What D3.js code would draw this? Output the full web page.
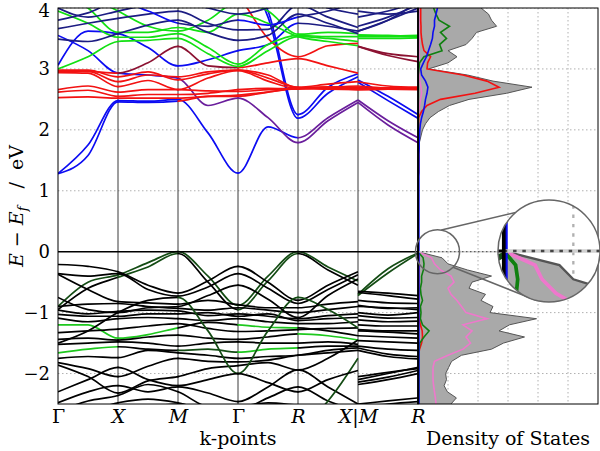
<!DOCTYPE html>
<html><head><meta charset="utf-8">
<script src="https://cdn.jsdelivr.net/npm/d3@7"></script>
<style>body{margin:0;background:#fff} svg{display:block}</style>
</head><body>
<svg id="c" width="600" height="451"></svg>
<script>
// ---------- data ----------
const kLabels = ["Γ","X","M","Γ","R","X|M","R"];
const kItalic = [false,true,true,false,true,true,true];
// sample positions along the path (X|M is a discontinuity, sampled twice)
const kSamples = [0,0.5,1,1.5,2,2.5,3,3.5,4,4.5,5,5,5.5,6];
const yTicks = [-2,-1,0,1,2,3,4];
const dosGrid = [1,2,3,4,5];

// bands (eV) at kSamples
const bandEnergies = [
  [1.28,1.75,2.48,2.47,2.50,1.95,1.29,2.05,1.87,2.20,2.49,2.49,2.15,1.87],
  [1.28,1.58,2.46,2.45,2.47,2.55,2.55,2.62,2.68,2.70,2.70,2.70,2.68,2.68],
  [4.60,4.60,4.50,4.50,4.50,4.60,4.70,3.95,2.25,2.70,2.92,2.82,2.55,2.25],
  [4.60,4.60,4.50,4.50,4.50,4.60,4.70,3.85,2.19,2.60,2.87,2.78,2.48,2.19],
  [3.06,3.62,3.58,3.35,3.05,3.15,3.30,3.40,3.75,3.70,3.62,3.62,3.80,4.10],
  [3.55,3.30,2.93,2.90,2.85,2.40,2.52,2.20,1.79,2.15,2.45,2.45,2.08,1.79],
  [2.98,2.98,2.87,2.95,2.82,2.92,2.98,2.90,2.69,2.70,2.68,2.68,2.68,2.68],
  [2.96,2.96,2.79,2.90,2.87,2.95,2.98,2.85,2.70,2.75,2.79,2.79,2.72,2.70],
  [2.94,2.93,2.71,2.81,2.66,2.85,2.97,2.80,2.68,2.68,2.68,2.68,2.68,2.68],
  [2.66,2.72,2.62,2.66,2.66,2.64,2.63,2.66,2.68,2.68,2.66,2.66,2.67,2.67],
  [2.62,2.65,2.55,2.58,2.58,2.60,2.66,2.68,2.67,2.70,2.72,2.72,2.69,2.69],
  [2.53,2.54,2.52,2.52,2.52,2.55,2.57,2.62,2.68,2.67,2.66,2.66,2.67,2.66],
  [4.50,4.40,4.30,4.30,4.40,4.50,4.20,3.50,3.20,3.38,3.42,3.37,3.25,3.20],
  [2.97,2.96,2.93,3.10,3.37,3.05,3.02,3.10,3.17,3.05,2.93,3.37,3.22,3.12],
  [3.00,3.20,3.45,3.47,3.50,3.25,3.04,3.30,3.53,3.50,3.45,3.53,3.53,3.53],
  [3.95,3.75,3.52,3.52,3.58,3.35,3.08,3.40,3.55,3.53,3.53,3.55,3.54,3.55],
  [4.30,4.00,3.60,3.60,3.68,3.60,3.90,3.75,3.53,3.45,3.38,3.50,3.50,3.51],
  [4.40,4.20,3.95,3.70,3.62,3.80,4.10,3.95,3.57,3.60,3.58,3.56,3.55,3.53],
  [3.49,3.45,3.58,3.72,3.80,3.60,3.47,3.55,3.90,3.75,3.58,3.62,3.80,4.00],
  [3.66,3.75,3.83,3.90,3.95,3.75,3.64,3.65,4.05,3.85,3.68,3.70,3.85,4.05],
  [4.00,3.85,3.95,4.05,4.10,4.00,3.90,4.00,4.20,4.00,3.90,3.85,3.95,4.10],
  [3.80,3.92,4.10,3.95,3.75,3.70,3.80,3.72,3.85,3.95,4.10,3.95,3.90,3.95],
  // valence bands
  [-0.90,-0.50,-0.38,-0.18,0.00,-0.40,-0.88,-0.40,0.00,-0.25,-0.48,-0.70,-0.28,-0.02],
  [-0.95,-0.60,-0.42,-0.25,-0.03,-0.50,-0.95,-0.48,-0.03,-0.30,-0.55,-0.72,-0.35,-0.03],
  [-0.21,-0.24,-0.33,-0.55,-0.68,-0.48,-0.24,-0.50,-0.80,-0.55,-0.33,-0.65,-0.68,-0.72],
  [-0.36,-0.40,-0.36,-0.62,-0.73,-0.58,-0.36,-0.60,-0.85,-0.62,-0.38,-0.67,-0.72,-0.78],
  [-0.37,-0.62,-0.82,-0.84,-0.86,-0.80,-0.87,-0.92,-0.92,-0.86,-0.82,-0.80,-0.84,-0.85],
  [-0.90,-0.86,-0.85,-0.90,-0.93,-0.96,-0.92,-0.96,-1.00,-0.95,-0.90,-0.88,-0.93,-0.92],
  [-0.96,-1.02,-0.98,-0.96,-0.97,-1.05,-1.02,-1.06,-1.10,-1.05,-1.02,-1.00,-1.04,-1.00],
  [-1.03,-1.06,-1.06,-1.02,-1.02,-1.00,-1.06,-1.02,-1.13,-1.10,-1.08,-1.05,-1.09,-1.08],
  [-1.09,-1.15,-1.10,-1.08,-1.10,-1.13,-1.10,-1.15,-1.18,-1.18,-1.15,-1.12,-1.15,-1.14],
  [-1.20,-1.20,-1.42,-1.36,-1.25,-1.16,-1.20,-1.24,-1.25,-1.30,-1.38,-1.20,-1.22,-1.22],
  [-1.33,-1.30,-1.27,-1.22,-1.18,-1.26,-1.31,-1.30,-1.28,-1.26,-1.25,-1.28,-1.30,-1.30],
  [-1.44,-1.42,-1.45,-1.40,-1.37,-1.42,-1.44,-1.40,-1.35,-1.38,-1.45,-1.38,-1.40,-1.42],
  [-1.52,-1.50,-1.48,-1.50,-1.55,-1.50,-1.48,-1.50,-1.50,-1.48,-1.52,-1.46,-1.48,-1.50],
  [-1.66,-1.60,-1.56,-1.60,-1.62,-1.60,-1.65,-1.60,-1.58,-1.55,-1.55,-1.55,-1.60,-1.62],
  [-1.75,-1.72,-1.74,-1.62,-1.66,-1.70,-1.75,-1.72,-1.70,-1.62,-1.58,-1.58,-1.68,-1.72],
  [-1.82,-1.92,-2.05,-1.88,-1.75,-1.80,-1.81,-1.78,-1.70,-1.66,-1.62,-1.62,-1.72,-1.76],
  [-1.86,-2.05,-2.32,-2.12,-2.05,-1.92,-1.87,-1.82,-1.94,-1.75,-1.45,-2.10,-2.00,-1.90],
  [-2.48,-2.30,-2.20,-2.30,-2.22,-2.32,-2.46,-2.22,-1.94,-2.22,-2.50,-2.14,-2.06,-1.95],
  [-2.62,-2.45,-2.36,-2.18,-2.30,-2.55,-2.60,-2.40,-2.22,-2.45,-2.62,-2.50,-2.45,-2.40],
  [-2.90,-2.75,-2.62,-2.55,-2.50,-2.60,-2.70,-2.80,-2.90,-2.45,-1.75,-2.05,-1.98,-1.92],
  [-1.50,-1.30,-1.00,-0.80,-0.75,-1.30,-2.00,-1.30,-0.75,-0.95,-1.25,-1.30,-1.32,-1.35],
  [-0.75,-0.95,-1.00,-0.92,-0.90,-0.72,-0.55,-0.78,-1.08,-0.72,-0.45,-0.90,-0.92,-0.95],
  [-2.30,-2.10,-1.90,-2.10,-2.20,-2.10,-2.00,-2.15,-2.30,-2.10,-1.95,-2.18,-2.10,-2.00],
  [-2.55,-2.60,-2.48,-2.42,-2.48,-2.60,-2.55,-2.48,-2.52,-2.56,-2.50,-2.55,-2.50,-2.46]
];
// colour code per path segment (Γ-X, X-M, M-Γ, Γ-R, R-X, M-R)
const bandColors = [
  "bbbbpp","bbrrrr","bbbbbb","bbbbbb","bbbbnn","bbpppp",
  "rrrrrr","rrrrrr","rrrrrr","rrrrrr","rrrrrr","rrrrrr","rrrrrm","rmmrrm",
  "gggggg","gggggg","gggggg","gggggg","nnnnnn","nnnnnn","nnnnnn","nbnbnn",
  "dddddd","kdkdkd","kkkkkk","kkkkkk","kkkkkk","kkkkkk","kkkkkk","kkkkkk","kkkkkk",
  "GGkGkk","kkkkkk","kkkkGk","kkkkkk","GkdGkk","kkkkkk","kkkkkk","kkkkkk","kkkkkk",
  "kkkkkk","kkkkdk","kkdddk","kkkkkk","kkkkkk","kkkkkk"
];

// density of states, energies and projections
const dosEnergy = [-2.5,-2.4,-2.3,-2.2,-2.1,-2.0,-1.9,-1.8,-1.7,-1.6,-1.5,-1.4,-1.3,-1.2,-1.1,-1.0,-0.9,-0.8,-0.7,-0.6,-0.5,-0.4,-0.3,-0.2,-0.1,0.0,
  0.1,0.2,0.3,0.4,0.5,0.6,0.7,0.8,0.9,1.0,1.1,1.2,
  1.3,1.4,1.5,1.6,1.7,1.8,1.9,2.0,2.1,2.2,2.3,2.4,2.5,2.6,2.7,2.8,2.9,3.0,3.1,3.2,3.3,3.4,3.5,3.6,3.7,3.8,3.9,4.0];
const dosTotal = [1.10,1.28,0.98,0.87,0.95,0.92,1.02,1.12,1.45,2.45,2.85,3.55,2.70,3.05,3.95,2.40,2.50,2.10,2.25,1.70,1.80,2.45,1.65,1.00,0.80,0.00,
  0,0,0,0,0,0,0,0,0,0,0,0,
  0.03,0.03,0.03,0.03,0.04,0.05,0.10,0.15,0.25,0.40,0.68,1.05,1.70,2.95,3.80,2.50,1.65,0.35,1.00,1.30,1.00,1.60,1.80,1.95,2.62,2.45,2.35,2.10];
const dosRed = [0.02,0.02,0.02,0.02,0.02,0.02,0.02,0.02,0.02,0.05,0.12,0.15,0.14,0.08,0.04,0.02,0.02,0.02,0.02,0.02,0.02,0.02,0.02,0.02,0.02,0.00,
  0,0,0,0,0,0,0,0,0,0,0,0,
  0.02,0.02,0.02,0.02,0.02,0.02,0.02,0.02,0.02,0.02,0.12,0.30,0.75,1.90,2.70,2.30,1.50,0.30,0.32,0.42,0.20,0.15,0.12,0.10,0.10,0.09,0.09,0.09];
const dosGreen = [0.02,0.03,0.03,0.03,0.03,0.03,0.03,0.03,0.03,0.04,0.06,0.20,0.37,0.15,0.08,0.10,0.08,0.15,0.10,0.08,0.12,0.12,0.18,0.20,0.17,0.00,
  0,0,0,0,0,0,0,0,0,0,0,0,
  0.01,0.01,0.01,0.01,0.01,0.01,0.01,0.01,0.01,0.01,0.01,0.01,0.01,0.01,0.01,0.01,0.01,0.03,0.05,0.20,0.80,0.72,0.95,0.75,1.05,0.70,0.60,0.52];
const dosBlue = [0.03,0.03,0.03,0.03,0.03,0.03,0.03,0.03,0.03,0.03,0.03,0.03,0.03,0.03,0.03,0.03,0.03,0.03,0.03,0.03,0.03,0.03,0.03,0.03,0.03,0.03,
  0.03,0.03,0.03,0.03,0.03,0.03,0.03,0.03,0.03,0.03,0.03,0.03,
  0.03,0.03,0.03,0.03,0.04,0.04,0.05,0.06,0.08,0.12,0.18,0.22,0.25,0.30,0.33,0.25,0.12,0.09,0.18,0.28,0.35,0.42,0.48,0.50,0.55,0.55,0.60,0.65];
const dosPink = [0.60,0.58,0.55,0.52,0.50,0.50,0.50,0.55,1.00,1.50,1.75,1.60,1.80,1.50,2.30,1.60,1.45,1.30,1.10,1.00,1.20,1.10,0.75,0.55,0.45,0.00,
  0,0,0,0,0,0,0,0,0,0,0,0,
  0.01,0.01,0.01,0.01,0.01,0.01,0.01,0.01,0.01,0.01,0.03,0.05,0.08,0.12,0.10,0.06,0.04,0.02,0.03,0.03,0.03,0.03,0.03,0.03,0.03,0.03,0.03,0.03];

// ---------- layout ----------
const L = 58, R = 418, T = 8, B = 404, DR = 598;
const serif = "'DejaVu Serif', serif";
const palette = {b:"#0c0cf2", r:"#f21212", g:"#12e012", n:"#1c1c82", p:"#6a1e9c", m:"#8c1232", k:"#000000", d:"#144c14", G:"#1ec81e"};

const svg = d3.select("#c");
const kx = d3.scaleLinear().domain([0, 6]).range([L, R]);
const yE = d3.scaleLinear().domain([-2.5, 4]).range([B, T]);
const dx = d3.scaleLinear().domain([0, 6]).range([R, DR]);

const defs = svg.append("defs");
defs.append("clipPath").attr("id", "bandClip").append("rect")
  .attr("x", L).attr("y", T).attr("width", R - L).attr("height", B - T);
defs.append("clipPath").attr("id", "dosClip").append("rect")
  .attr("x", R).attr("y", T).attr("width", DR - R).attr("height", B - T);
for (let s = 0; s < 5; s++) {
  defs.append("clipPath").attr("id", "seg" + s).append("rect")
    .attr("x", kx(s) - 0.6).attr("y", T - 5).attr("width", kx(s + 1) - kx(s) + 1.2).attr("height", B - T + 10);
}

const bandLine = d3.line().x(d => kx(d[0])).y(d => yE(d[1])).curve(d3.curveMonotoneX);
const dosLine = d3.line().x(d => dx(d[1])).y(d => yE(d[0]));
const dosArea = d3.area().y(d => yE(d[0])).x0(dx(0)).x1(d => dx(d[1]));

function draw(g) {
  // band panel grid
  const bg = g.append("g");
  bg.selectAll("line.hg").data(yTicks.filter(v => v !== 0)).join("line")
    .attr("x1", L).attr("x2", R).attr("y1", d => yE(d)).attr("y2", d => yE(d))
    .attr("stroke", "#b0b0b0").attr("stroke-width", 1).attr("stroke-dasharray", "1.5,2.5");
  bg.selectAll("line.kl").data(d3.range(1, 6)).join("line")
    .attr("x1", d => kx(d)).attr("x2", d => kx(d)).attr("y1", T).attr("y2", B)
    .attr("stroke", "#3a3a3a").attr("stroke-width", 1);

  // bands
  const bands = g.append("g").attr("clip-path", "url(#bandClip)");
  bandEnergies.forEach((vals, i) => {
    const pts = kSamples.map((k, j) => [k, vals[j]]);
    const partA = bandLine(pts.slice(0, 11));
    const partB = bandLine(pts.slice(11));
    const cols = bandColors[i];
    for (let s = 0; s < 5; s++) {
      bands.append("path").attr("d", partA).attr("clip-path", `url(#seg${s})`)
        .attr("fill", "none").attr("stroke", palette[cols[s]]).attr("stroke-width", 1.7);
    }
    bands.append("path").attr("d", partB)
      .attr("fill", "none").attr("stroke", palette[cols[5]]).attr("stroke-width", 1.7);
  });
  // Fermi level
  g.append("line").attr("x1", L).attr("x2", R).attr("y1", yE(0)).attr("y2", yE(0))
    .attr("stroke", "#000").attr("stroke-width", 1.4);

  // DOS panel
  const dg = g.append("g").attr("clip-path", "url(#dosClip)");
  dg.selectAll("line.dh").data(yTicks.filter(v => v !== 0)).join("line")
    .attr("x1", R).attr("x2", DR).attr("y1", d => yE(d)).attr("y2", d => yE(d))
    .attr("stroke", "#b0b0b0").attr("stroke-width", 1).attr("stroke-dasharray", "1.5,2.5");
  dg.selectAll("line.dv").data(dosGrid).join("line")
    .attr("x1", d => dx(d)).attr("x2", d => dx(d)).attr("y1", T).attr("y2", B)
    .attr("stroke", "#b0b0b0").attr("stroke-width", 1).attr("stroke-dasharray", "1.5,2.5");
  const tot = dosEnergy.map((e, i) => [e, dosTotal[i]]);
  dg.append("path").attr("d", dosArea(tot)).attr("fill", "#a9a9a9");
  dg.append("path").attr("d", dosLine(tot)).attr("fill", "none").attr("stroke", "#555").attr("stroke-width", 1);
  [[dosPink, "#ee78cc"], [dosRed, "#f21212"], [dosGreen, "#108010"], [dosBlue, "#0c0cf2"]].forEach(([arr, c]) => {
    dg.append("path").attr("d", dosLine(dosEnergy.map((e, i) => [e, arr[i]])))
      .attr("fill", "none").attr("stroke", c).attr("stroke-width", 1.6);
  });
  // Fermi level in DOS panel: light band with dark dots
  dg.append("line").attr("x1", R).attr("x2", DR).attr("y1", yE(0)).attr("y2", yE(0))
    .attr("stroke", "#d0d0d0").attr("stroke-width", 1.6);
  dg.append("line").attr("x1", R).attr("x2", DR).attr("y1", yE(0)).attr("y2", yE(0))
    .attr("stroke", "#444").attr("stroke-width", 1).attr("stroke-dasharray", "1.5,2.5");

  // frames
  g.append("rect").attr("x", L).attr("y", T).attr("width", R - L).attr("height", B - T)
    .attr("fill", "none").attr("stroke", "#000").attr("stroke-width", 1);
  g.append("rect").attr("x", R).attr("y", T).attr("width", DR - R).attr("height", B - T)
    .attr("fill", "none").attr("stroke", "#000").attr("stroke-width", 1);
  g.append("line").attr("x1", R).attr("x2", R).attr("y1", T).attr("y2", B)
    .attr("stroke", "#000").attr("stroke-width", 1.6);
}

draw(svg.append("g"));

// ---------- axes text ----------
const yAxis = svg.append("g").attr("transform", `translate(${L},0)`)
  .call(d3.axisLeft(yE).tickValues(yTicks).tickSize(0).tickPadding(8).tickFormat(d3.format("d")));
yAxis.select(".domain").remove();
yAxis.selectAll("text").style("font-family", serif).style("font-size", "18px").attr("fill", "#000")
  .attr("dy", d => d === 4 ? "0.45em" : "0.32em");

const xAxis = svg.append("g").attr("transform", `translate(0,${B})`)
  .call(d3.axisBottom(kx).tickValues(d3.range(0, 7)).tickSize(0).tickPadding(6).tickFormat(i => kLabels[i]));
xAxis.select(".domain").remove();
xAxis.selectAll("text").style("font-family", serif).style("font-size", "19px").attr("fill", "#000")
  .style("font-style", i => kItalic[i] ? "italic" : "normal");

svg.append("text").attr("x", (L + R) / 2).attr("y", 445).attr("text-anchor", "middle")
  .style("font-family", serif).style("font-size", "19px").text("k-points");
svg.append("text").attr("x", (R + DR) / 2).attr("y", 445).attr("text-anchor", "middle")
  .style("font-family", serif).style("font-size", "19px").text("Density of States");

const yl = svg.append("text").attr("transform", `translate(23,${(T + B) / 2}) rotate(-90)`)
  .attr("text-anchor", "middle").style("font-family", serif).style("font-size", "19px").style("white-space", "pre");
yl.append("tspan").style("font-style", "italic").text("E");
yl.append("tspan").text(" − ");
yl.append("tspan").style("font-style", "italic").text("E");
yl.append("tspan").style("font-style", "italic").style("font-size", "13px").attr("dy", 4).text("f");
yl.append("tspan").attr("dy", -4).text("   /  eV");

// ---------- magnifier ----------
const srcCx = dx(0.65), srcCy = yE(0), srcR = 22;
const magCx = 549, magCy = 251, magR = 51;
const zf = magR / srcR;
defs.append("clipPath").attr("id", "magClip").append("circle")
  .attr("cx", magCx).attr("cy", magCy).attr("r", magR);
const deg = Math.PI / 180;
const connectors = [[-80, -131], [45, 104]];
connectors.forEach(([a1, a2]) => {
  svg.append("line")
    .attr("x1", srcCx + srcR * Math.cos(a1 * deg)).attr("y1", srcCy + srcR * Math.sin(a1 * deg))
    .attr("x2", magCx + magR * Math.cos(a2 * deg)).attr("y2", magCy + magR * Math.sin(a2 * deg))
    .attr("stroke", "#666").attr("stroke-width", 1.5);
});
svg.append("circle").attr("cx", magCx).attr("cy", magCy).attr("r", magR).attr("fill", "#fff");
const mg = svg.append("g").attr("clip-path", "url(#magClip)")
  .append("g").attr("transform", `translate(${magCx},${magCy}) scale(${zf}) translate(${-srcCx},${-srcCy})`);
draw(mg);
svg.append("circle").attr("cx", magCx).attr("cy", magCy).attr("r", magR)
  .attr("fill", "none").attr("stroke", "#666").attr("stroke-width", 1.5);
svg.append("circle").attr("cx", srcCx).attr("cy", srcCy).attr("r", srcR)
  .attr("fill", "none").attr("stroke", "#666").attr("stroke-width", 1.5);
</script>
</body></html>
